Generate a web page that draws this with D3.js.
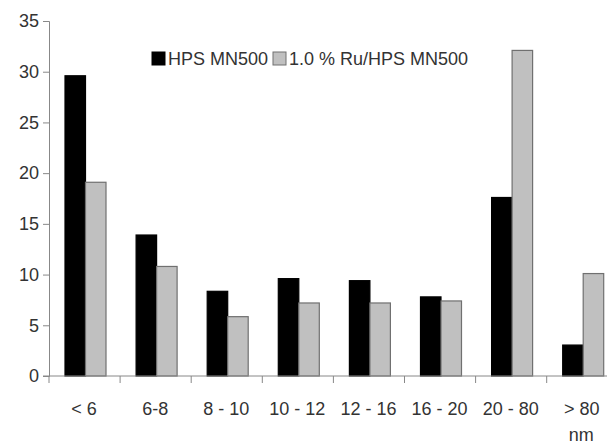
<!DOCTYPE html>
<html>
<head>
<meta charset="utf-8">
<script src="https://cdn.jsdelivr.net/npm/d3@7"></script>
<style>
  body { margin: 0; background: #fff; }
  text { font-family: "Liberation Sans", Arial, sans-serif; fill: #333; }
</style>
</head>
<body>
<svg id="chart" width="607" height="441"></svg>
<script>
// particle size ranges (nm)
var categories = ["< 6", "6-8", "8 - 10", "10 - 12", "12 - 16", "16 - 20", "20 - 80", "> 80"];
var seriesNames = ["HPS MN500", "1.0 % Ru/HPS MN500"];
var hpsValues = [29.6, 13.9, 8.35, 9.6, 9.4, 7.8, 17.6, 3.05];
var ruValues = [19.1, 10.8, 5.85, 7.2, 7.2, 7.4, 32.1, 10.1];
var yTicks = [0, 5, 10, 15, 20, 25, 30, 35];

var colors = { "HPS MN500": "#000000", "1.0 % Ru/HPS MN500": "#c0c0c0" };
var strokes = { "HPS MN500": "#000000", "1.0 % Ru/HPS MN500": "#707070" };

var svg = d3.select("#chart");

// note: "top" is taken by window.top, so plotTop
var plotLeft = 49, plotTop = 21, plotBottom = 376;
var step = 71.1;

var x = d3.scaleBand()
  .domain(categories)
  .range([plotLeft, plotLeft + step * categories.length])
  .padding(0);

var xSub = d3.scaleBand()
  .domain(seriesNames)
  .range([16, 57])
  .padding(0);

var y = d3.scaleLinear()
  .domain([0, 35])
  .range([plotBottom, plotTop]);

var rows = categories.map(function(c, i) {
  return { cat: c, values: [
    { key: seriesNames[0], v: hpsValues[i] },
    { key: seriesNames[1], v: ruValues[i] }
  ]};
});

// y axis
var yAxis = svg.append("g")
  .attr("transform", "translate(" + plotLeft + ",0)")
  .call(d3.axisLeft(y).tickValues(yTicks).tickSize(6).tickPadding(4));
yAxis.select(".domain").attr("stroke", "#888");
yAxis.selectAll(".tick line").attr("stroke", "#888");
yAxis.selectAll(".tick text")
  .style("font-size", "18px")
  .style("font-family", "Liberation Sans, Arial, sans-serif")
  .attr("fill", "#333");

// bars
var groups = svg.append("g").selectAll("g")
  .data(rows)
  .join("g")
  .attr("transform", function(d) { return "translate(" + x(d.cat) + ",0)"; });

groups.selectAll("rect")
  .data(function(d) { return d.values; })
  .join("rect")
  .attr("x", function(d) { return xSub(d.key); })
  .attr("y", function(d) { return y(d.v); })
  .attr("width", xSub.bandwidth())
  .attr("height", function(d) { return plotBottom - y(d.v); })
  .attr("fill", function(d) { return colors[d.key]; })
  .attr("stroke", function(d) { return strokes[d.key]; })
  .attr("stroke-width", 1.2);

// x axis: boundary ticks between categories
var xAxisG = svg.append("g");
xAxisG.append("line")
  .attr("x1", plotLeft - 6).attr("x2", 607)
  .attr("y1", plotBottom).attr("y2", plotBottom)
  .attr("stroke", "#888");
xAxisG.selectAll("line.tk")
  .data(categories)
  .join("line")
  .attr("class", "tk")
  .attr("x1", function(d) { return x(d); })
  .attr("x2", function(d) { return x(d); })
  .attr("y1", plotBottom).attr("y2", plotBottom + 7)
  .attr("stroke", "#888");

xAxisG.selectAll("text.lbl")
  .data(categories)
  .join("text")
  .attr("class", "lbl")
  .attr("x", function(d) { return x(d) + step / 2 - 0.5; })
  .attr("y", 415)
  .attr("text-anchor", "middle")
  .style("font-size", "18px")
  .text(function(d) { return d; });

// unit label under last category
svg.append("text")
  .attr("x", x(categories[categories.length - 1]) + step / 2 - 1)
  .attr("y", 441)
  .attr("text-anchor", "middle")
  .style("font-size", "18px")
  .text("nm");

// legend
var legendPos = [152, 273];
var legend = svg.append("g");
seriesNames.forEach(function(name, i) {
  legend.append("rect")
    .attr("x", legendPos[i]).attr("y", 52)
    .attr("width", 13).attr("height", 13)
    .attr("fill", colors[name])
    .attr("stroke", strokes[name]);
  legend.append("text")
    .attr("x", legendPos[i] + 16)
    .attr("y", 65)
    .style("font-size", "18px")
    .text(name);
});
</script>
</body>
</html>
